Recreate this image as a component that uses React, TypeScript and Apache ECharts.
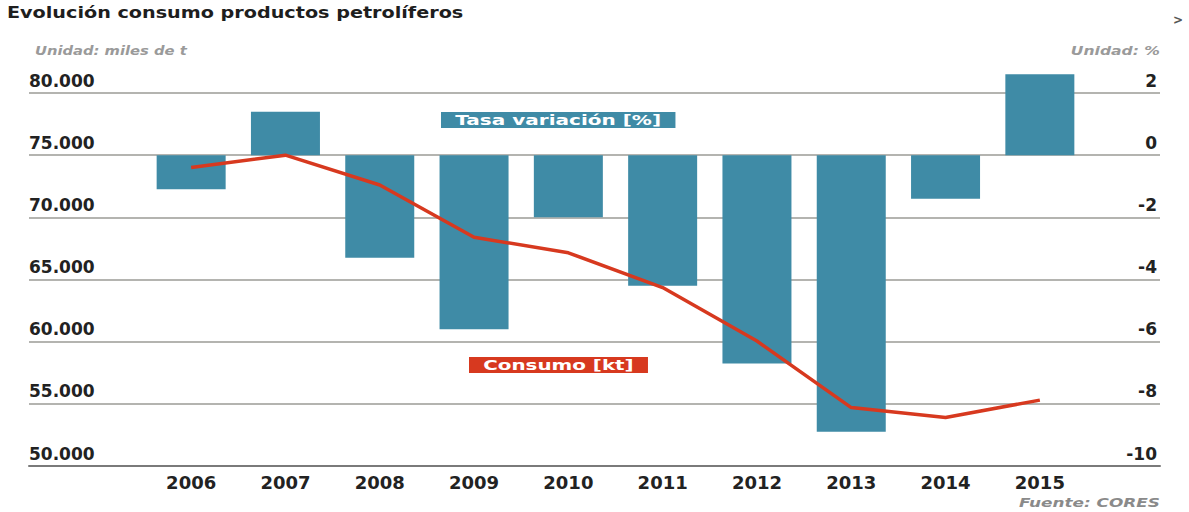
import React, { useEffect, useRef } from 'react';
import * as echarts from 'echarts';

const years = ['2006', '2007', '2008', '2009', '2010', '2011', '2012', '2013', '2014', '2015'];
const variacion = [-1.1, 1.4, -3.3, -5.6, -2.0, -4.2, -6.7, -8.9, -1.4, 2.6];
const consumo = [74000, 75000, 72600, 68400, 67150, 64350, 60050, 54700, 53900, 55300];

const leftMin = 50000;
const leftMax = 80000;
const leftStep = 5000;
const rightMin = -10;
const rightMax = 2;
const rightStep = 2;

const FONT = '"DejaVu Sans", sans-serif';
const TEAL = '#3F8BA6';
const RED = '#D7391F';

const fmtThousands = (v: number) => String(v).replace(/\B(?=(\d{3})+(?!\d))/g, '.');

export default function App() {
  const ref = useRef<HTMLDivElement>(null);
  useEffect(() => {
    document.body.style.margin = '0';
    const chart = echarts.init(ref.current!, null, { renderer: 'svg' });
    const top = 93;
    const bottom = 46;
    chart.setOption({
      animation: false,
      backgroundColor: '#ffffff',
      grid: [
        { left: 29, right: 29, top, bottom },
        { left: 144, right: 102, top, bottom },
      ],
      xAxis: [
        {
          gridIndex: 0, type: 'value', min: 0, max: 1,
          axisLine: { show: true, onZero: false, lineStyle: { color: '#7a7a7a', width: 2 } },
          axisTick: { show: false }, axisLabel: { show: false }, splitLine: { show: false },
        },
        {
          gridIndex: 1, type: 'category', data: years,
          axisLine: { show: false }, axisTick: { show: false },
          axisLabel: {
            interval: 0, margin: 7, color: '#222', fontSize: 18, fontWeight: 'bold', fontFamily: FONT,
          },
        },
      ],
      yAxis: [
        {
          gridIndex: 0, type: 'value', min: leftMin, max: leftMax, interval: leftStep, position: 'left',
          axisLine: { show: false }, axisTick: { show: false },
          axisLabel: {
            inside: true, margin: 0, verticalAlign: 'bottom', padding: [0, 0, 4, 0],
            color: '#222', fontSize: 17, fontWeight: 'bold', fontFamily: FONT,
            formatter: (v: number) => fmtThousands(v),
          },
          splitLine: { show: true, lineStyle: { color: '#b4b4b0', width: 2 } },
        },
        {
          gridIndex: 0, type: 'value', min: rightMin, max: rightMax, interval: rightStep, position: 'right',
          axisLine: { show: false }, axisTick: { show: false },
          axisLabel: {
            inside: true, margin: 3, verticalAlign: 'bottom', padding: [0, 0, 4, 0],
            color: '#222', fontSize: 17, fontWeight: 'bold', fontFamily: FONT,
          },
          splitLine: { show: false },
        },
        { gridIndex: 1, type: 'value', min: leftMin, max: leftMax, interval: leftStep, show: false },
        { gridIndex: 1, type: 'value', min: rightMin, max: rightMax, interval: rightStep, show: false },
      ],
      series: [
        {
          name: 'Tasa variación [%]', type: 'bar', xAxisIndex: 1, yAxisIndex: 3,
          data: variacion, barWidth: 69, clip: false,
          itemStyle: { color: TEAL },
        },
        {
          name: 'Consumo [kt]', type: 'line', xAxisIndex: 1, yAxisIndex: 2,
          data: consumo, symbol: 'none', clip: false,
          lineStyle: { color: RED, width: 3.5 },
          z: 5,
        },
      ],
      graphic: [
        {
          type: 'text', x: 7, y: 5, scaleX: 1.2,
          style: {
            text: 'Evolución consumo productos petrolíferos', fill: '#1e1e1e',
            font: `bold 16px ${FONT}`, verticalAlign: 'top',
          },
        },
        {
          type: 'text', x: 35, y: 45, scaleX: 1.23,
          style: {
            text: 'Unidad: miles de t', fill: '#9a9a9a',
            font: `italic bold 12px ${FONT}`, verticalAlign: 'top',
          },
        },
        {
          type: 'text', x: 1160, y: 45, scaleX: 1.3,
          style: {
            text: 'Unidad: %', fill: '#9a9a9a', align: 'right',
            font: `italic bold 12px ${FONT}`, verticalAlign: 'top',
          },
        },
        {
          type: 'text', x: 1160, y: 496, scaleX: 1.3,
          style: {
            text: 'Fuente: CORES', fill: '#8a8a8a', align: 'right',
            font: `italic bold 13px ${FONT}`, verticalAlign: 'top',
          },
        },
        {
          type: 'text', x: 1173, y: 14,
          style: { text: '>', fill: '#555', font: `bold 12px ${FONT}`, verticalAlign: 'top' },
        },
        {
          type: 'text', x: 441, y: 112, scaleX: 1.43, z: 10,
          style: {
            text: 'Tasa variación [%]', fill: '#ffffff', backgroundColor: TEAL,
            padding: [0, 10, 0, 10], lineHeight: 16,
            font: `bold 14px ${FONT}`, verticalAlign: 'top',
          },
        },
        {
          type: 'text', x: 469, y: 357, scaleX: 1.42, z: 10,
          style: {
            text: 'Consumo [kt]', fill: '#ffffff', backgroundColor: RED,
            padding: [0, 10, 0, 10], lineHeight: 16,
            font: `bold 14px ${FONT}`, verticalAlign: 'top',
          },
        },
      ],
    });
    return () => chart.dispose();
  }, []);
  return <div ref={ref} style={{ width: 1189, height: 512 }} />;
}
